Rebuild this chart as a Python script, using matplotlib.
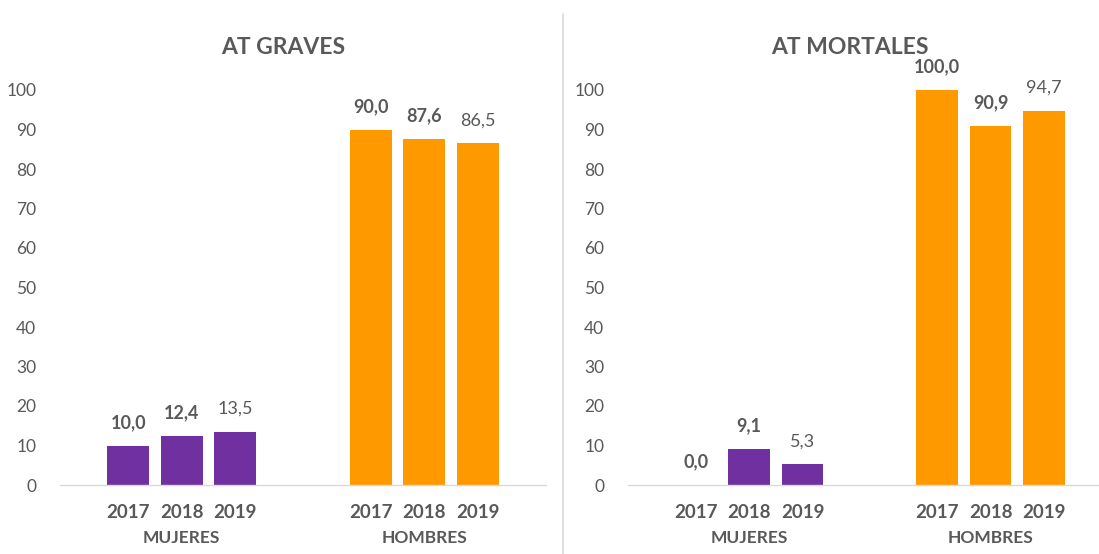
import matplotlib.pyplot as plt
from matplotlib.lines import Line2D
from matplotlib.transforms import blended_transform_factory

plt.rcParams["font.family"] = ["Lato", "DejaVu Sans"]

years = ["2017", "2018", "2019"]
groups = ["MUJERES", "HOMBRES"]
graves_mujeres = [10.0, 12.4, 13.5]
graves_hombres = [90.0, 87.6, 86.5]
mortales_mujeres = [0.0, 9.1, 5.3]
mortales_hombres = [100.0, 90.9, 94.7]
titles = ["AT GRAVES", "AT MORTALES"]

purple = "#7030A0"
orange = "#FF9900"
text_c = "#595959"

fig = plt.figure(figsize=(10.99, 5.54), dpi=100)
ax1 = fig.add_axes([60 / 1099, 69 / 554, 486 / 1099, 395 / 554])
ax2 = fig.add_axes([628 / 1099, 69 / 554, 471 / 1099, 395 / 554])

pos_m = [0, 1, 2]
pos_h = [4.52, 5.52, 6.52]
width = 0.78


def draw(ax, muj, hom, title, xmax, title_x):
    ax.bar(pos_m, muj, width=width, color=purple)
    ax.bar(pos_h, hom, width=width, color=orange)
    for xs, vals in ((pos_m, muj), (pos_h, hom)):
        for i, (x, v) in enumerate(zip(xs, vals)):
            ax.annotate(f"{v:.1f}".replace(".", ","), (x, v), xytext=(0, 16.5),
                        textcoords="offset points", ha="center", va="center",
                        fontsize=13, color=text_c,
                        fontweight="bold" if i < 2 else "normal")
    ax.set_ylim(0, 100)
    ax.set_xlim(-1.27, xmax)
    ax.set_yticks(range(0, 101, 10))
    ax.set_xticks(pos_m + pos_h)
    ax.set_xticklabels(years * 2, fontweight="bold")
    ax.tick_params(axis="y", length=0, pad=17, labelsize=12.5, labelcolor=text_c)
    ax.tick_params(axis="x", length=0, pad=14, labelsize=13.5, labelcolor=text_c)
    for s in ("top", "right", "left"):
        ax.spines[s].set_visible(False)
    ax.spines["bottom"].set_color("#d9d9d9")
    ax.spines["bottom"].set_linewidth(1)
    tr = blended_transform_factory(ax.transData, ax.transAxes)
    for g, xs in zip(groups, (pos_m, pos_h)):
        ax.annotate(g, (xs[1], 0), xycoords=tr, xytext=(0, -38.5),
                    textcoords="offset points", ha="center", va="center",
                    fontsize=12.5, fontweight="bold", color=text_c)
    fig.text(title_x, 1 - 47 / 554, title, ha="center", va="center",
             fontsize=16.5, fontweight="bold", color=text_c)


draw(ax1, graves_mujeres, graves_hombres, titles[0], 7.79, 283 / 1099)
draw(ax2, mortales_mujeres, mortales_hombres, titles[1], 7.55, 850 / 1099)

fig.add_artist(Line2D([563 / 1099, 563 / 1099], [0, 1 - 14 / 554],
                      transform=fig.transFigure, color="#d9d9d9", linewidth=1.2))

fig.savefig("out.png", dpi=100)
